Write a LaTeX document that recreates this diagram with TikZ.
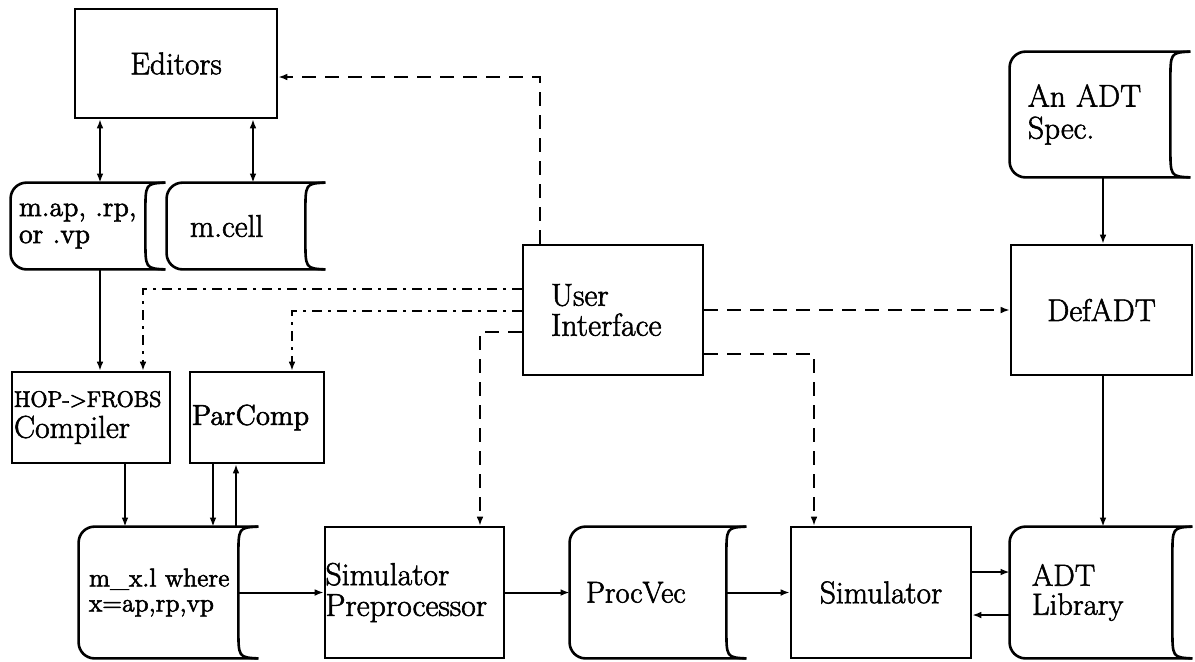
\documentclass[tikz,border=0pt]{standalone}
\usetikzlibrary{arrows.meta,calc}

% font size / baseline skip in one go
\newcommand\fsz[2]{\fontsize{#1}{#2}\selectfont}
% slightly heavier lettering: fill and stroke the glyphs
\newcommand\inkon{\special{pdf:literal direct 2 Tr 0.28 w}}
\newcommand\inkoff{\special{pdf:literal direct 0 Tr}}

% outline of a stored-data symbol around a node: rounded left end,
% concave right end
\newcommand\storeoutline[1]{%
  \draw[line width=1.3pt,rounded corners=8pt]
    (#1.north east) -- (#1.north west) -- (#1.south west) -- (#1.south east);
  \draw[line width=1.3pt]
    (#1.north east) .. controls ($(#1.north east)+(-20,1)$) .. ($(#1.north east)+(-20,30)$)
    -- ($(#1.south east)+(-20,-30)$)
    .. controls ($(#1.south east)+(-20,-1)$) .. (#1.south east);
}

\begin{document}
\begin{tikzpicture}[x=0.5pt,y=-0.5pt,
  every node/.style={font=\fsz{15.7}{15},
    execute at begin node=\inkon, execute at end node=\inkoff},
  box/.style={draw,line width=1.3pt,inner sep=0pt,align=center},
  store/.style={inner sep=0pt,align=left},
  >={Latex[length=4.5pt,width=3.4pt]},
  flow/.style={line width=1pt,->},
  both/.style={line width=1pt,<->},
  ctl/.style={line width=1pt,->,dash pattern=on 7pt off 4.5pt},
  ctldot/.style={line width=0.9pt,->,dash pattern=on 5pt off 3pt on 1.5pt off 3pt},
]
\useasboundingbox (0,0) rectangle (1195,661);

% ---- processes and stores ----
\node[box,minimum width=101pt,minimum height=54.5pt] (ed) at (176,63.5) {Editors};

\node[store,minimum width=77pt,minimum height=43pt,text width=69pt,inner xsep=4pt,
      font=\fsz{14}{13.5}] (map) at (88,226) {m.ap, .rp,\\or .vp};
\node[store,minimum width=79pt,minimum height=43pt,text width=56pt,inner xsep=11.5pt]
      (cell) at (246,226) {m.cell};

\node[store,minimum width=90pt,minimum height=62.5pt,text width=72pt,inner xsep=9pt,
      font=\fsz{15.7}{16}] (spec) at (1100,114.5) {An ADT\\Spec.};

\node[box,align=left,minimum width=90pt,minimum height=65pt,text width=62pt,inner xsep=14pt,
      font=\fsz{15.9}{15}] (ui) at (613,310) {User\\Interface};

\node[box,minimum width=90.5pt,minimum height=65pt] (def) at (1101.5,310) {DefADT};

\node[box,align=left,minimum width=79pt,minimum height=45.5pt,text width=77pt,inner xsep=1pt,
      font=\fsz{15.8}{15.5}] (hop) at (91,417.5) {{\fsz{11.2}{12}HOP->FROBS}\\Compiler};

\node[box,align=left,minimum width=67pt,minimum height=45.5pt,text width=65pt,inner xsep=1pt,
      font=\fsz{14.4}{15}] (pc) at (257,417.5) {ParComp};

\node[store,minimum width=89.5pt,minimum height=65.5pt,text width=79.5pt,inner xsep=5pt,
      font=\fsz{12.9}{12.5}] (mx) at (168.5,592.5) {m\_x.l where\\x=ap,rp,vp};

\node[box,align=left,minimum width=89.5pt,minimum height=65.5pt,text width=89pt,inner xsep=0.25pt,
      font=\fsz{15.9}{15.4}] (sp) at (414.5,592.5) {Simulator\\Preprocessor};

\node[store,minimum width=88pt,minimum height=65.5pt,text width=72pt,inner xsep=8pt,
      font=\fsz{15.1}{15}] (pv) at (658,592.5) {ProcVec};

\node[box,minimum width=90pt,minimum height=65.5pt] (sim) at (881,592.5) {Simulator};

\node[store,minimum width=91pt,minimum height=65.5pt,text width=69pt,inner xsep=11pt,
      font=\fsz{15.3}{14.5}] (lib) at (1101,592.5) {ADT\\Library};

\storeoutline{map}
\storeoutline{cell}
\storeoutline{spec}
\storeoutline{mx}
\storeoutline{pv}
\storeoutline{lib}

% ---- guide columns and rows for the connectors ----
\coordinate (xA) at (100,0);
\coordinate (xB) at (253,0);
\coordinate (xC) at (125,0);
\coordinate (xD) at (213,0);
\coordinate (xE) at (236,0);
\coordinate (xF) at (1103,0);
\coordinate (yG) at (0,572);
\coordinate (yH) at (0,615);

% ---- data flow ----
\draw[both] (xA |- ed.south) -- (xA |- map.north);
\draw[both] (xB |- ed.south) -- (xB |- cell.north);
\draw[flow] (xA |- map.south) -- (xA |- hop.north);
\draw[flow] (xC |- hop.south) -- (xC |- mx.north);
\draw[flow] (xD |- pc.south) -- (xD |- mx.north);
\draw[flow] (xE |- mx.north) -- (xE |- pc.south);
\draw[flow] (xF |- spec.south) -- (xF |- def.north);
\draw[flow] (xF |- def.south) -- (xF |- lib.north);
\draw[flow] ([xshift=-10pt]mx.east) -- (sp.west);
\draw[flow] (sp.east) -- (pv.west);
\draw[flow] ([xshift=-10pt]pv.east) -- (sim.west);
\draw[flow] (sim.east |- yG) -- (lib.west |- yG);
\draw[flow] (lib.west |- yH) -- (sim.east |- yH);

% ---- control from the user interface ----
\coordinate (kEd) at (540,77);
\draw[ctl] (ui.north -| kEd) -- (kEd) -- (ed.east |- kEd);
\coordinate (kHop) at (143,289);
\draw[ctldot] (ui.west |- kHop) -- (kHop) -- (kHop |- hop.north);
\coordinate (kPc) at (292,311);
\draw[ctldot] (ui.west |- kPc) -- (kPc) -- (kPc |- pc.north);
\coordinate (kSp) at (480,332);
\draw[ctl] (ui.west |- kSp) -- (kSp) -- (kSp |- sp.north);
\coordinate (kSim) at (814,354);
\draw[ctl] (ui.east |- kSim) -- (kSim) -- (kSim |- sim.north);
\draw[ctl] (ui.east) -- (def.west);
\end{tikzpicture}
\end{document}
